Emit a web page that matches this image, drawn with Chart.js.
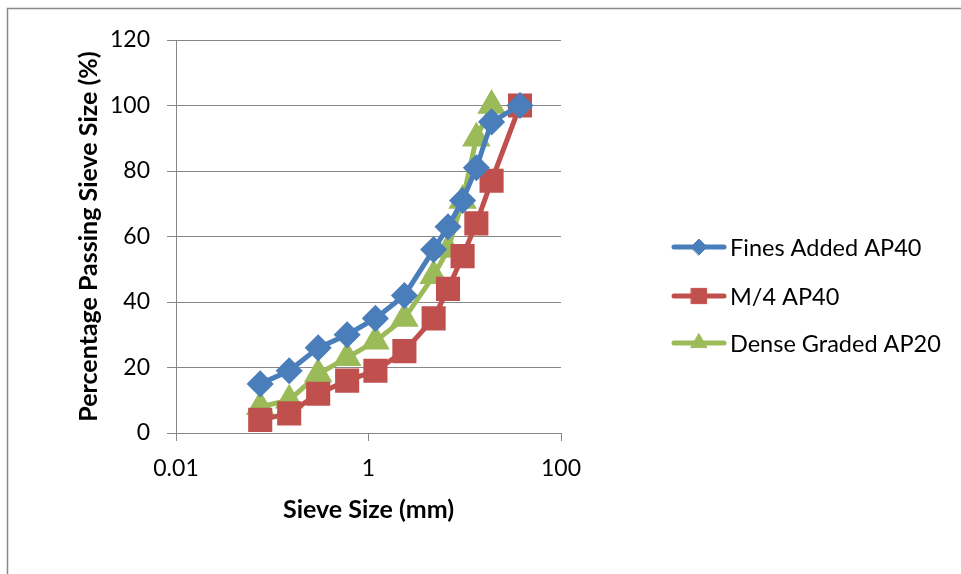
<!DOCTYPE html>
<html>
<head>
<meta charset="utf-8">
<script src="https://cdn.jsdelivr.net/npm/chart.js@4/dist/chart.umd.min.js"></script>
<style>
  html, body { margin: 0; padding: 0; background: #fff; }
  #chart-canvas { display: block; }
</style>
</head>
<body>
<canvas id="chart-canvas" width="961" height="574"></canvas>
<script>
// sieve sizes in mm
const sieveSizes = [0.075, 0.15, 0.3, 0.6, 1.18, 2.36, 4.75, 6.7, 9.5, 13.2, 19, 37.5];
const finesAdded = [15, 19, 26, 30, 35, 42, 56, 63, 71, 81, 95, 100];
const m4 = [4, 6, 12, 16, 19, 25, 35, 44, 54, 64, 77, 100];
const denseGraded = [8, 10, 18, 23, 28, 35, 48, 56, 71, 90, 100];
const seriesNames = ['Fines Added AP40', 'M/4 AP40', 'Dense Graded AP20'];
const xTicks = [0.01, 1, 100];
const yTicks = [0, 20, 40, 60, 80, 100, 120];

const FONT = 'Lato, "Open Sans", sans-serif';
const GRID = '#868686';

function pts(vals) {
  return vals.map((v, i) => ({ x: sieveSizes[i], y: v }));
}

const frame = {
  id: 'frame',
  beforeDraw(chart) {
    const c = chart.ctx;
    c.save();
    c.fillStyle = '#fff';
    c.fillRect(0, 0, chart.width, chart.height);
    c.strokeStyle = '#898989';
    c.lineWidth = 1.5;
    c.beginPath();
    c.moveTo(7.5, chart.height + 2);
    c.lineTo(7.5, 8.5);
    c.lineTo(chart.width + 2, 8.5);
    c.stroke();
    c.restore();
  }
};

// legend drawn like excel: line with marker, then label
const sideLegend = {
  id: 'sideLegend',
  afterDraw(chart) {
    const c = chart.ctx;
    const rows = [247, 296, 343];
    c.save();
    chart.data.datasets.forEach((ds, i) => {
      const y = rows[i];
      c.strokeStyle = ds.borderColor;
      c.lineWidth = ds.borderWidth;
      c.lineCap = 'round';
      c.beginPath();
      c.moveTo(674, y);
      c.lineTo(724, y);
      c.stroke();
      c.fillStyle = ds.pointBackgroundColor;
      c.strokeStyle = ds.pointBorderColor;
      c.lineWidth = 1;
      Chart.helpers.drawPoint(c, {
        pointStyle: ds.pointStyle,
        radius: ds.pointRadius * 0.8,
        rotation: 0,
        borderWidth: 1
      }, 699, y);
      c.fillStyle = '#000';
      c.font = '23.5px ' + FONT;
      c.textBaseline = 'middle';
      c.textAlign = 'left';
      c.fillText(ds.label, 730, y + 1);
    });
    c.restore();
  }
};

function series(label, data, color, style, radius) {
  return {
    label: label,
    data: pts(data),
    borderColor: color,
    backgroundColor: color,
    pointBackgroundColor: color,
    pointBorderColor: color,
    pointStyle: style,
    pointRadius: radius,
    pointHoverRadius: radius,
    borderWidth: 5,
    tension: 0
  };
}

const ctx = document.getElementById('chart-canvas').getContext('2d');

new Chart(ctx, {
  type: 'line',
  data: {
    datasets: [
      series(seriesNames[0], finesAdded, '#4A7EBB', 'rectRot', 10),
      series(seriesNames[1], m4, '#C0504D', 'rect', 13.5),
      series(seriesNames[2], denseGraded, '#9BBB59', 'triangle', 11.5)
    ]
  },
  options: {
    responsive: false,
    animation: false,
    layout: { padding: { left: 0, top: 40, right: 400, bottom: 0 } },
    plugins: {
      legend: { display: false },
      tooltip: { enabled: false }
    },
    scales: {
      x: {
        type: 'logarithmic',
        min: 0.01,
        max: 100,
        afterBuildTicks: s => { s.ticks = xTicks.map(v => ({ value: v })); },
        afterFit: s => { s.height = 141; },
        ticks: {
          autoSkip: false,
          maxRotation: 0,
          padding: 14,
          color: '#000',
          font: { family: FONT, size: 23 },
          callback: v => String(v)
        },
        grid: { drawOnChartArea: false, tickLength: 8, color: GRID, lineWidth: 1 },
        border: { color: GRID, width: 1 },
        title: {
          display: true,
          text: 'Sieve Size (mm)',
          color: '#000',
          font: { family: FONT, size: 25, weight: 'bold' },
          padding: { top: 0, bottom: 49 }
        }
      },
      y: {
        min: 0,
        max: 120,
        afterBuildTicks: s => { s.ticks = yTicks.map(v => ({ value: v })); },
        afterFit: s => { s.width = 176; },
        ticks: {
          padding: 17,
          color: '#000',
          font: { family: FONT, size: 23 }
        },
        grid: { tickLength: 9, color: GRID, lineWidth: 1 },
        border: { color: GRID, width: 1 },
        title: {
          display: true,
          text: 'Percentage Passing Sieve Size (%)',
          color: '#000',
          font: { family: FONT, size: 25, weight: 'bold' },
          padding: { top: 74, bottom: 0 }
        }
      }
    }
  },
  plugins: [frame, sideLegend]
});
</script>
</body>
</html>
